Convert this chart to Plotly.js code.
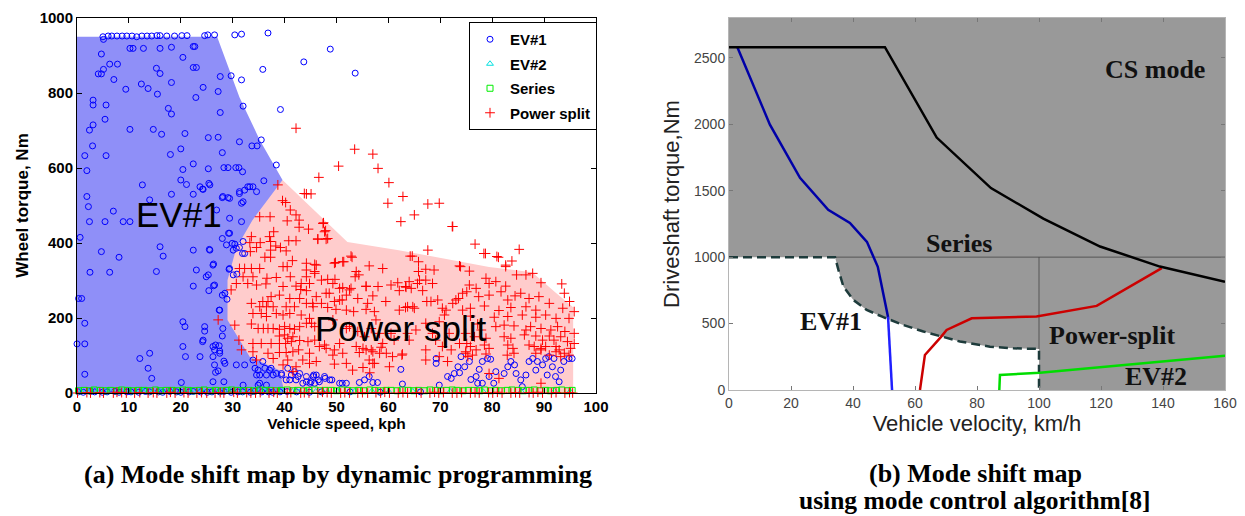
<!DOCTYPE html>
<html><head><meta charset="utf-8">
<script src="https://cdn.plot.ly/plotly-3.0.1.min.js"></script>
<style>html,body{margin:0;padding:0;background:#fff;}#chart{width:1245px;height:516px;}</style>
</head><body><div id="chart"></div>
<script>
// ---------- (a) Dynamic programming scatter: [speed kph, wheel torque Nm] ----------
const ev1Points = [
[5.0,950],[6.0,952],[6.7,952],[7.7,952],[8.7,952],[9.6,952],[10.6,952],[11.5,950],[12.5,952],[13.5,952],
[14.4,952],[15.4,953],[16.0,953],[17.3,952],[18.8,952],[20.2,953],[21.2,953],[24.6,953],[25.2,955],[26.5,955],
[30.4,955],[31.7,957],[36.8,960],[43.7,883],[48.8,917],[53.6,853],
[5.1,943],[10.2,919],[10.8,919],[12.8,919],[16.0,919],[18.2,922],[22.4,924],[22.7,924],[4.7,904],[6.3,877],
[7.8,877],[20.4,895],[22.4,868],[23.0,868],[4.1,851],[4.7,851],[5.1,863],[15.3,866],[16.0,852],[12.4,824],
[13.7,812],[9.4,810],[7.1,836],[27.6,844],[29.7,846],[31.7,835],[18.2,828],[24.3,815],[27.2,804],[32.0,765],
[35.8,863],[39.2,756],[3.1,781],[3.1,768],[5.6,768],[15.5,797],[22.9,788],[17.6,759],[18.2,744],[27.6,748],
[31.3,670],[33.7,659],[34.7,659],[35.5,675],[38.4,608],[2.4,701],[3.1,715],[3.0,659],[5.4,730],[10.2,703],
[14.7,703],[16.3,690],[20.8,692],[25.3,681],[27.2,682],[28.0,641],[20.0,651],[18.0,636],[1.5,633],[5.6,633],
[22.4,611],[20.4,596],[25.3,598],[28.3,601],[29.1,601],[30.6,601],[31.2,601],[31.9,590],[1.9,593],[12.6,555],
[20.0,568],[21.1,556],[25.4,559],[24.2,544],[31.3,537],[32.9,550],[33.9,550],[34.6,537],[36.0,566],[18.2,530],
[22.4,530],[28.0,521],[29.1,521],[32.0,510],[1.9,524],[2.2,497],[7.0,485],[14.0,515],
[2.4,457],[5.4,457],[8.9,457],[10.2,457],[0.6,415],[4.7,377],[16.0,390],[16.6,365],[8.1,362],[2.5,322],
[6.3,322],[15.3,324],[22.4,381],[25.5,383],[23.0,328],[22.4,285],[25.3,315],[25.4,273],[26.3,344],[26.3,286],
[0.3,252],[0.9,252],[1.5,186],[0,131],[1.5,131],[1.5,50],[12.1,92],[14.0,106],[13.7,66],[14.4,39],
[20.4,190],[20.8,177],[20.4,124],[20.9,97],[20.1,28],[23.7,97],[24.2,137],[24.6,165],[26.2,124],[26.7,128],
[27.4,126],[26.5,75],[26.7,55],[27.2,59],[27.5,112],[26.2,30],[28.3,30],[27.4,221],[28.0,261],[28.0,152],
[28.3,85],[28.9,250],[29.3,330],[28.0,412],[29.4,426],[29.9,399],[30.1,381],[30.7,386],[32.0,404],[31.9,372],
[32.3,372],[30.1,315],[30.8,317],[30.7,75],[32.0,21],[33.9,88],[34.3,66],[34.6,48],[35.2,26],[35.8,84],
[36.5,48],[37.1,61],[37.8,48],[38.4,52],[36.5,21],[34.9,21],[39.4,52],[40.3,35],[41.3,48],[42.2,35],
[42.9,52],[44.2,44],[45.1,30],[45.8,26],[46.1,48],
[23.7,550],[25.6,555],[24.3,543],[31.3,532],[32.3,541],[33.3,550],[28.1,524],[29.4,519],[31.7,506],[26.9,488],
[29.4,466],[31.7,457],[29.2,426],[28.8,395],[30.4,397],[31.3,388],[25.6,381],[26.2,341],[29.4,332],[24.9,310],
[26.5,288],[28.5,266],[27.5,221],[24.6,177],[28.1,172],[24.3,141],[26.5,115],[27.5,106],[26.2,97],[28.5,79],
[34.9,61],[36.2,66],[37.4,66],[39.4,48],[40.6,66],[41.9,57],[42.6,44],[41.0,35],[43.5,26],[45.5,44],
[46.5,35],[47.8,39],[49.1,35],[51.9,26],[35.2,48],[32.3,75],
[44.2,30],[45.6,48],[44.9,26],[46.7,30],[47.7,44],[48.7,35],[50.6,26],[51.1,26],[54.4,28],[55.4,35],
[56.3,44],[57.0,28],[57.9,28],[62.4,63],[62.7,24],[69.2,92],[69.2,79],[69.8,21],[71.4,44],[72.1,39],
[72.7,52],[73.7,54],[74.0,97],[73.4,70],[74.7,70],[75.6,84],[75.9,36],[76.9,44],[77.2,26],[77.5,63],
[78.1,84],[79.1,92],[79.7,90],[78.1,26],[79.4,44],[80.3,26],[80.7,57],[82.3,52],[83.0,70],[83.6,84],
[84.3,75],[84.6,52],[85.5,35],[85.8,17],[86.5,48],[87.1,84],[87.8,92],[88.4,61],[88.7,84],[89.7,75],
[90.3,92],[90.9,97],[90.6,48],[91.6,70],[91.9,92],[92.2,44],[92.9,30],[93.2,61],[93.8,84],[94.8,92],[95.4,92]
];
const powerSplitPoints = [
[46.6,575],[60.1,561],[59.9,506],[44.2,531],[45.1,531],[39.6,513],[40.2,508],[41.1,488],[42.2,475],[42.8,461],
[35.2,470],[37.2,470],[40.5,459],[42.8,442],[47.5,454],[44.6,437],[47.9,433],[46.4,411],[48.3,412],[37.9,430],
[33.6,417],[33.3,401],[35.3,401],[37.1,417],[37.3,404],[40.8,406],[42.2,406],[38.3,392],[39.2,388],[40.3,379],
[37.3,381],[37.3,362],[34.6,388],[33.4,377],[36.2,362],[41.5,353],[46.1,341],[49.6,346],[51.4,350],[53.0,362],
[31.3,332],[32.3,332],[33.6,332],[35.2,332],[39.7,337],[40.5,337],[44.2,328],[45.8,319],[32.0,310],[33.9,310],
[36.6,306],[38.4,308],[41.1,310],[44.2,310],[48.3,303],[53.6,310],[55.7,284],[30.7,292],[32.9,292],[34.6,288],
[36.4,291],[39.7,284],[42.2,285],[44.8,292],[49.3,292],[50.6,279],[52.8,279],[29.7,275],[43.1,276],[44.2,273],
[48.0,266],[51.9,261],[60.5,288],[37.4,257],[39.0,261],[41.0,252],[42.9,252],[49.6,244],[51.1,248],[57.0,259],
[35.8,244],[36.8,244],[33.6,239],[35.2,230],[36.5,230],[37.8,230],[40.3,230],[41.9,230],[44.2,239],[45.5,230],
[47.1,239],[48.3,228],[49.9,223],[51.9,221],[53.3,217],[55.7,223],[57.3,217],[33.9,212],[35.5,212],[36.5,204],
[38.4,212],[39.7,208],[41.0,212],[43.2,208],[44.8,199],[30.4,181],[33.6,184],[34.9,172],[35.9,172],[36.8,172],
[37.8,172],[39.0,170],[40.0,177],[41.0,172],[41.9,170],[42.9,177],[44.2,186],[45.2,186],[33.9,132],[35.5,132],
[37.4,132],[39.0,152],[40.0,155],[40.6,146],[41.6,150],[39.0,132],[40.2,132],[41.3,137],[42.9,140],[44.5,137],
[45.8,141],[47.7,128],[49.6,115],[33.9,110],[36.8,106],[39.0,108],[40.3,108],[41.6,110],[42.7,115],[43.5,88],
[44.8,79],[46.1,84],[34.6,88],[37.8,92],[40.6,88],[49.6,77],[51.9,79],[54.4,108],[55.7,115],[57.0,110],
[58.6,122],[59.6,106],[60.8,97],[57.0,79],[55.1,68],[56.4,54],[39.7,75],[42.2,70],[41.6,57],[53.1,61],
[76.7,397],[78.7,372],[80.9,364],[85.2,383],[67.6,381],[64.6,365],[65.8,350],[73.7,339],[82.6,341],[83.8,352],
[75.6,325],[84.7,315],[86.5,315],[87.8,319],[61.8,294],[64.0,297],[65.6,292],[67.2,301],[68.5,292],[66.6,273],
[65.8,324],[78.8,306],[79.4,292],[80.7,297],[82.6,285],[89.4,294],[93.4,291],[62.1,273],[63.3,284],[75.6,288],
[76.9,279],[75.1,270],[77.4,257],[73.5,252],[79.4,261],[81.7,270],[83.0,248],[84.4,259],[85.5,266],[87.1,252],
[89.0,257],[93.9,266],[94.9,244],[68.2,244],[69.5,248],[63.3,228],[64.7,230],[70.4,226],[72.4,239],[74.3,221],
[75.8,226],[78.5,232],[81.3,220],[83.6,228],[86.5,230],[88.4,221],[91.0,239],[93.6,226],[95.8,217],[70.8,208],
[75.8,205],[80.4,202],[83.0,204],[85.8,208],[88.4,202],[90.3,208],[92.3,199],[94.8,199],[77.2,184],[77.9,168],
[80.7,177],[82.3,181],[84.2,179],[86.5,168],[87.4,177],[89.4,172],[91.3,168],[92.6,177],[94.0,164],[95.8,159],
[74.9,159],[76.6,150],[78.8,146],[82.3,150],[83.6,146],[86.2,155],[88.4,152],[89.7,141],[91.0,152],[91.9,141],
[93.2,150],[94.5,137],[95.8,132],[63.7,159],[62.6,101],[75.1,132],[75.8,124],[76.9,115],[78.5,128],[79.4,119],
[83.0,128],[84.0,119],[87.1,128],[88.1,124],[89.4,119],[90.3,124],[92.3,124],[92.9,115],[93.9,106],[95.1,119],
[74.9,106],[76.2,101],[78.8,104],[82.9,101],[84.2,106],[88.4,106],[89.4,115],[91.0,101],[92.3,110],[93.2,97],
[94.8,101],[89.4,26],[79.4,52],[81.3,39],
[67.6,504],[69.8,506],[62.4,457],[65.0,475],[72.4,444],[47.4,452],[47.7,430],[46.4,410],[48.0,410],[52.8,365],
[51.2,350],[49.8,348],[45.8,343],[44.2,346],[45.8,324],[43.2,292],[47.1,301],[49.7,303],[51.2,281],[52.5,275],
[55.7,285],[58.0,284],[53.8,324],[54.3,315],[56.3,339],[58.9,332],[63.4,282],[64.4,279],[66.0,301],[67.2,330],
[68.8,328],[45.4,239],[46.1,257],[48.6,266],[50.6,248],[54.1,252],[56.0,239],[59.5,244],[62.1,221],[63.7,230],
[65.0,226],[67.4,244],[45.8,177],[49.3,195],[51.9,172],[52.5,177],[56.7,172],[58.3,159],[55.4,150],[53.8,124],
[46.7,124],[48.0,119],[44.8,106],[49.3,101],[56.3,88],[57.3,79],[60.2,70],[62.7,104],[67.2,88],
[69.8,190],[71.1,221],[73.0,248],[74.3,266],[67.2,186],[68.5,159],[69.1,141],[70.4,124],[71.7,159],[72.1,115],
[73.7,132],[74.9,110],[65.3,168],[64.0,141],[69.8,97],[71.4,84],[75.3,97],[67.2,115],
[50.6,132],[51.2,106],[55.1,119],[56.7,115],[58.3,106],[58.9,132],[60.5,159],[61.1,141],[57.6,195],[54.1,164],
[53.5,650],[57.0,637],[50.4,605],[58.0,599],[43.8,532],[62.8,524],[42.2,706],[78.4,372],[81.2,362],[82.6,337],
[73.9,337],[72.3,444],[64.2,365],[27.2,195],[31.2,141],[31.7,115],[38.7,555]
];
// points lying on the zero-torque row
const ev1ZeroX = [0.3,1.2,2.6,3.4,4.9,5.8,7.3,8.1,9.6,10.4,11.9,13.2,14.0,15.7,16.5,17.9,19.2,20.0,21.6,22.4,
23.8,25.1,26.0,27.5,28.3,29.7,31.0,31.9,33.4,34.2,35.6,36.9,37.7,39.1,40.5,42.3,44.8,47.1,52.6,58.4,66.2];
const ev1ZeroY = [3,2,4,3,2,3,4,2,3,3,2,4,3,3,2,4,3,2,3,4,3,2,3,3,4,2,3,3,2,4,3,3,2,3,4,3,2,3,3,2,3];
const ev2ZeroX = [0.8,2.1,3.9,5.2,6.6,8.8,10.1,11.4,12.7,14.6,16.1,17.3,18.6,20.8,22.0,23.3,24.5,26.7,28.0,29.2,
30.4,32.6,33.8,35.0,36.3,38.4,39.7,41.5,42.8,44.1,46.0,48.3,50.2,53.5,56.8,60.1,64.7,71.9,78.3,85.6,92.0,95.0];
const ev2ZeroY = [4,3,4,5,3,4,4,3,5,4,3,4,4,5,3,4,3,4,4,5,4,3,4,4,5,3,4,4,3,5,4,3,4,4,5,3,4,4,3,4,5,4];
const seriesZeroX = [0.3,1.4,2.4,3.3,4.5,5.6,6.5,7.7,8.6,9.8,10.8,11.9,12.9,14.0,15.1,16.0,17.2,18.3,19.2,20.4,
21.4,22.5,23.6,24.5,25.7,26.7,27.8,28.9,29.8,31.0,32.0,33.1,34.1,35.2,36.3,37.2,38.4,39.4,40.5,41.6,
42.5,43.7,44.7,45.8,46.9,47.8,49.0,50.0,51.1,52.1,53.2,54.3,55.2,56.4,57.4,58.5,59.6,60.5,61.7,62.7,
63.8,64.9,65.8,67.0,68.0,69.1,70.1,71.2,72.3,73.2,74.4,75.4,76.5,77.6,78.5,79.7,80.7,81.8,82.9,83.8,
85.0,86.0,87.1,88.1,89.2,90.3,91.2,92.4,93.4,94.5,95.4];
const seriesZeroY = [6,7,6,8,7,6,7,6,8,7,6,7,7,6,8,6,7,7,6,8,7,6,7,8,6,7,6,7,8,7,6,7,6,8,7,7,6,7,8,6,
7,6,7,8,6,7,7,6,8,7,6,7,6,8,7,6,7,7,6,8,7,6,7,6,8,7,6,7,8,7,6,7,7,6,8,6,7,6,7,8,7,6,7,8,6,7,6,7,8,6,7];
const psZeroX = [0.1,0.9,1.9,2.6,3.5,4.4,5.1,6.0,7.0,7.7,8.6,9.5,10.2,11.1,12.1,12.8,13.7,14.7,15.4,16.3,
17.3,18.0,18.9,19.8,20.6,21.4,22.4,23.1,24.0,25.0,25.7,26.6,27.6,28.3,29.2,30.2,30.9,31.8,32.7,33.5,
34.4,35.3,36.1,37.0,37.9,38.6,39.5,40.5,41.2,42.1,43.1,43.8,44.7,45.6,46.4,47.3,48.2,49.0,49.9,50.8,
51.6,52.5,53.4,54.1,55.0,56.0,56.7,57.6,58.5,59.3,60.2,61.1,61.9,62.8,63.7,64.5,65.4,66.3,67.1,68.0,
68.9,69.7,70.6,71.5,72.3,73.2,74.1,74.9,75.8,76.7,77.5,78.4,79.3,80.1,81.0,81.9,82.7,83.6,84.5,85.3,
86.2,87.1,87.9,88.8,89.7,90.5,91.4,92.3,93.1,94.0,94.9,95.5];
const psZeroY = [0,-1,1,0,-2,1,0,-1,0,2,1,0,-1,0,1,-2,0,1,0,-1,0,2,0,-1,1,0,-2,0,1,0,-1,0,1,0,-1,2,0,-1,1,0,
0,1,-1,0,2,0,-1,0,1,-2,0,1,0,-1,0,2,1,0,-1,0,1,0,-2,0,1,0,-1,1,0,2,0,-1,0,1,0,-2,1,0,-1,0,
2,0,1,-1,0,0,1,-2,0,1,0,-1,1,0,2,0,-1,0,1,0,-1,1,0,2,0,-1,0,1,-2,0,1,0];
// shaded mode regions of (a)
const ev1RegionX = [0,0,27,31.3,35.2,39.6,40,0];
const ev1RegionY = [0,950,950,789,675,568,0,0];
const psRegionX = [40,39,33.3,29,29,30.7,33.8,39.6,52.1,62,79.4,87.7,92.3,95.6,95.6,40];
const psRegionY = [0,61,96,195,301,387,461,568,403,381,336,322,267,229,0,0];

// ---------- (b) Mode control algorithm map: [velocity km/h, driveshaft torque Nm] ----------
const ev1BoundX = [0,34.2,35.3,36.9,40.1,44.4,49.8,56.2,62.7,69.1,74.5,84.2,91.7,100,100];
const ev1BoundY = [1000,1000,904,779,678,603,548,490,440,402,365,326,314,309,0];
const seriesBoundX = [34.2,160]; const seriesBoundY = [1000,1000];
const splitBoundX = [100,100];   const splitBoundY = [309,1000];
const csLineX = [0,50.3,67,84.5,101.4,119.7,139,160];
const csLineY = [2580,2580,1900,1520,1290,1080,929,814];
const ev1LineX = [2.6,13.2,22.9,32,39,44.5,48,51.3];
const ev1LineY = [2585,1997,1597,1356,1258,1115,927,550];
const ev1LineLowX = [51.3,52.6]; const ev1LineLowY = [550,0];
const psLineX = [61.6,63.2,68.4,70.2,78.3,99.2,118.6,139.6];
const psLineY = [0,264,400,452,540,553,633,917];
const ev2LineX = [87.2,87.4,100.3,160];
const ev2LineY = [0,113,130,257];

const xs = p => p.map(d => d[0]);
const ys = p => p.map(d => d[1]);
const none = {hoverinfo:'skip', showlegend:false};

const traces = [
  Object.assign({x:ev1RegionX, y:ev1RegionY, mode:'lines', fill:'toself', fillcolor:'#8f8ff8', line:{width:0}}, none),
  Object.assign({x:psRegionX, y:psRegionY, mode:'lines', fill:'toself', fillcolor:'#ffcccc', line:{width:0}}, none),
  {x: xs(ev1Points).concat(ev1ZeroX), y: ys(ev1Points).concat(ev1ZeroY), mode:'markers', name:'EV#1', legendgroup:'a',
   cliponaxis:false, marker:{symbol:'circle-open', size:6, color:'#0000ff', line:{width:1, color:'#0000ff'}}},
  {x: ev2ZeroX, y: ev2ZeroY, mode:'markers', name:'EV#2', legendgroup:'b', cliponaxis:false,
   marker:{symbol:'triangle-up-open', size:6, color:'#00e0e0', line:{width:1, color:'#00e0e0'}}},
  {x: seriesZeroX, y: seriesZeroY, mode:'markers', name:'Series', legendgroup:'c', cliponaxis:false,
   marker:{symbol:'square-open', size:6, color:'#00ee00', line:{width:1, color:'#00ee00'}}},
  {x: xs(powerSplitPoints).concat(psZeroX), y: ys(powerSplitPoints).concat(psZeroY), mode:'markers', name:'Power split', legendgroup:'d',
   cliponaxis:false, marker:{symbol:'cross-thin-open', size:7, color:'#ff0000', line:{width:1, color:'#ff0000'}}},
  // (b)
  Object.assign({x:ev1BoundX.concat([0]), y:ev1BoundY.concat([0]), xaxis:'x2', yaxis:'y2', mode:'lines', fill:'toself', fillcolor:'#ffffff', line:{width:0}}, none),
  Object.assign({x:seriesBoundX, y:seriesBoundY, xaxis:'x2', yaxis:'y2', mode:'lines', line:{color:'#444', width:0.8}}, none),
  Object.assign({x:splitBoundX, y:splitBoundY, xaxis:'x2', yaxis:'y2', mode:'lines', line:{color:'#444', width:0.8}}, none),
  Object.assign({x:ev1BoundX, y:ev1BoundY, xaxis:'x2', yaxis:'y2', mode:'lines', line:{color:'#1d3b3b', width:2.5, dash:'9px,5px'}}, none),
  Object.assign({x:ev2LineX, y:ev2LineY, xaxis:'x2', yaxis:'y2', mode:'lines', line:{color:'#00dd00', width:2.5}}, none),
  Object.assign({x:psLineX, y:psLineY, xaxis:'x2', yaxis:'y2', mode:'lines', line:{color:'#cc0000', width:2.5}}, none),
  Object.assign({x:ev1LineX, y:ev1LineY, xaxis:'x2', yaxis:'y2', mode:'lines', line:{color:'#0000a8', width:2.5}}, none),
  Object.assign({x:ev1LineLowX, y:ev1LineLowY, xaxis:'x2', yaxis:'y2', mode:'lines', line:{color:'#2020ff', width:2.5}}, none),
  Object.assign({x:csLineX, y:csLineY, xaxis:'x2', yaxis:'y2', mode:'lines', line:{color:'#000000', width:2.5}}, none)
];

const W = 1245, H = 516;
const px = v => v / W, py = v => 1 - v / H;
const sans = 'Liberation Sans, Arial, sans-serif';
const serif = 'Liberation Serif, Times New Roman, serif';
const leftTick = {family:sans, size:15, color:'#000', weight:'bold'};
const rightTick = {family:sans, size:14, color:'#444'};

const layout = {
  width:W, height:H, margin:{l:0,r:0,t:0,b:0},
  paper_bgcolor:'#fff', plot_bgcolor:'rgba(0,0,0,0)', showlegend:true,
  xaxis:{domain:[px(77), px(596)], range:[0,100], dtick:10, ticks:'inside', ticklen:5, tickcolor:'#000',
    mirror:'ticks', showline:true, linecolor:'#000', linewidth:1, showgrid:false, zeroline:false, tickfont:leftTick,
    title:{text:'Vehicle speed, kph', font:{family:sans, size:15.5, color:'#000', weight:'bold'}, standoff:3}},
  yaxis:{domain:[py(393), py(18)], range:[0,1000], dtick:200, ticks:'inside', ticklen:5, tickcolor:'#000',
    mirror:'ticks', showline:true, linecolor:'#000', linewidth:1, showgrid:false, zeroline:false, tickfont:leftTick,
    title:{text:'Wheel torque, Nm', font:{family:sans, size:17, color:'#000', weight:'bold'}, standoff:6}},
  xaxis2:{domain:[px(729), px(1225)], anchor:'y2', range:[0,160], dtick:20, ticks:'inside', ticklen:4, tickcolor:'#777',
    mirror:'ticks', showline:true, linecolor:'#b5b5b5', linewidth:1, showgrid:false, zeroline:false, tickfont:rightTick,
    title:{text:'Vehicle velocity, km/h', font:{family:sans, size:22, color:'#222'}, standoff:2}},
  yaxis2:{domain:[py(390), py(18)], anchor:'x2', range:[0,2800], tickvals:[0,500,1000,1500,2000,2500], ticks:'inside', ticklen:4, tickcolor:'#777',
    mirror:'ticks', showline:true, linecolor:'#b5b5b5', linewidth:1, showgrid:false, zeroline:false, tickfont:rightTick,
    title:{text:'Driveshaft torque,Nm', font:{family:sans, size:22, color:'#222'}, standoff:8}},
  legend:{x:px(469), y:py(22), xanchor:'left', yanchor:'top', bgcolor:'#fff', bordercolor:'#000', borderwidth:1,
    font:{family:sans, size:15, color:'#000', weight:'bold'}, tracegroupgap:2, traceorder:'grouped'},
  shapes:[{type:'rect', xref:'x2 domain', yref:'y2 domain', x0:0, x1:1, y0:0, y1:1, fillcolor:'#999999', line:{width:0}, layer:'below'}],
  annotations:[
    {xref:'x', yref:'y', x:19.6, y:477, text:'EV#1', showarrow:false, font:{family:sans, size:35, color:'#000'}},
    {xref:'x', yref:'y', x:62.4, y:172, text:'Power split', showarrow:false, font:{family:sans, size:35, color:'#000'}},
    {xref:'x2', yref:'y2', x:137.4, y:2411, text:'CS mode', showarrow:false, font:{family:serif, size:26, color:'#111', weight:'bold'}},
    {xref:'x2', yref:'y2', x:74.2, y:1100, text:'Series', showarrow:false, font:{family:serif, size:26, color:'#111', weight:'bold'}},
    {xref:'x2', yref:'y2', x:32.9, y:512, text:'EV#1', showarrow:false, font:{family:serif, size:26, color:'#111', weight:'bold'}},
    {xref:'x2', yref:'y2', x:123.5, y:414, text:'Power-split', showarrow:false, font:{family:serif, size:26, color:'#111', weight:'bold'}},
    {xref:'x2', yref:'y2', x:137.7, y:98, text:'EV#2', showarrow:false, font:{family:serif, size:26, color:'#111', weight:'bold'}},
    {xref:'paper', yref:'paper', x:px(338), y:py(474), xanchor:'center', yanchor:'middle', text:'(a) Mode shift map by dynamic programming', showarrow:false, font:{family:serif, size:26, color:'#000', weight:'bold'}},
    {xref:'paper', yref:'paper', x:px(975), y:py(473), xanchor:'center', yanchor:'middle', text:'(b) Mode shift map', showarrow:false, font:{family:serif, size:26, color:'#000', weight:'bold'}},
    {xref:'paper', yref:'paper', x:px(975), y:py(500), xanchor:'center', yanchor:'middle', borderpad:0, text:'using mode control algorithm[8]', showarrow:false, font:{family:serif, size:25.5, color:'#000', weight:'bold'}}
  ]
};
Plotly.newPlot('chart', traces, layout, {displayModeBar:false, staticPlot:true});
</script></body></html>
